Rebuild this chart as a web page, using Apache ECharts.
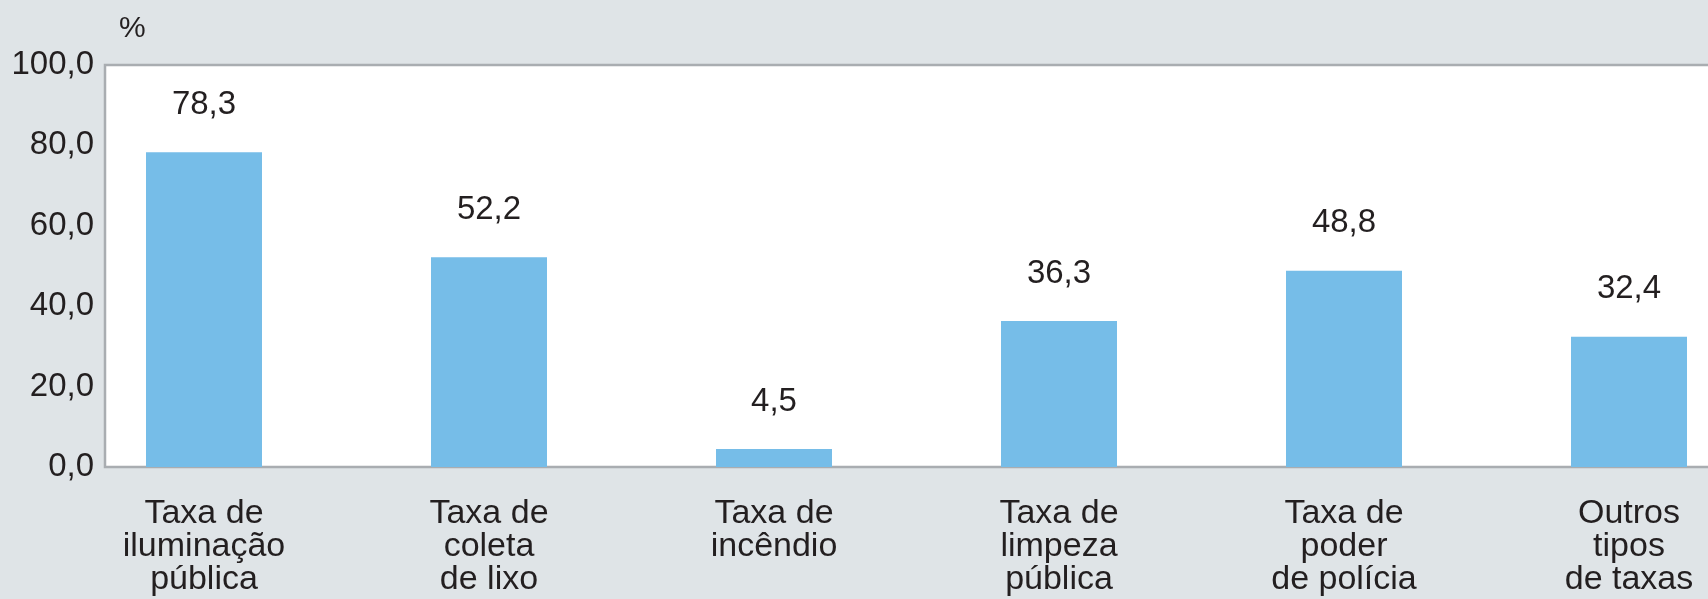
<!DOCTYPE html>
<html>
<head>
<meta charset="utf-8">
<script src="https://cdn.jsdelivr.net/npm/echarts@6/dist/echarts.min.js"></script>
<style>
  html, body { margin: 0; padding: 0; background: #DFE4E7; }
  #chart { width: 1708px; height: 599px; }
</style>
</head>
<body>
<div id="chart"></div>
<script>
const categories = [
  'Taxa de\niluminação\npública',
  'Taxa de\ncoleta\nde lixo',
  'Taxa de\nincêndio',
  'Taxa de\nlimpeza\npública',
  'Taxa de\npoder\nde polícia',
  'Outros\ntipos\nde taxas'
];
const values = [78.3, 52.2, 4.5, 36.3, 48.8, 32.4];
const yMin = 0, yMax = 100, yStep = 20;
const unitLabel = '%';

const fmt = v => v.toFixed(1).replace('.', ',');
const textColor = '#231F20';
const fontFamily = '"Liberation Sans", Arial, sans-serif';

const chart = echarts.init(document.getElementById('chart'), null, { renderer: 'canvas' });
chart.setOption({
  backgroundColor: '#DFE4E7',
  animation: false,
  title: {
    text: unitLabel,
    left: 114, top: 9,
    textStyle: { fontSize: 30, fontWeight: 'normal', color: textColor, fontFamily }
  },
  grid: [
    { left: 61.5, width: 1710, top: 65, height: 402, containLabel: false, outerBoundsMode: 'none' },
    { left: 105, right: -20, top: 65, height: 402, containLabel: false, outerBoundsMode: 'none',
      show: true, backgroundColor: '#FFFFFF', borderColor: '#A9ADB1', borderWidth: 2.5 }
  ],
  xAxis: [
    {
      type: 'category', gridIndex: 0, data: categories,
      axisLine: { show: false }, axisTick: { show: false },
      axisLabel: { interval: 0, fontSize: 34, lineHeight: 33, color: textColor, fontFamily, margin: 30, align: 'center' }
    },
    { type: 'value', gridIndex: 1, show: false }
  ],
  yAxis: [
    { type: 'value', gridIndex: 0, min: yMin, max: yMax, interval: yStep, show: false },
    {
      type: 'value', gridIndex: 1, min: yMin, max: yMax, interval: yStep,
      axisLine: { show: false }, axisTick: { show: false }, splitLine: { show: false },
      axisLabel: { formatter: fmt, fontSize: 33, color: textColor, fontFamily, margin: 11, padding: [4, 0, 0, 0] }
    }
  ],
  series: [{
    type: 'bar', xAxisIndex: 0, yAxisIndex: 0,
    data: values, barWidth: 116,
    itemStyle: { color: '#76BDE8' },
    label: {
      show: true, position: 'top', distance: 31,
      formatter: p => fmt(p.value),
      fontSize: 33, color: textColor, fontFamily
    }
  }]
});
</script>
</body>
</html>
